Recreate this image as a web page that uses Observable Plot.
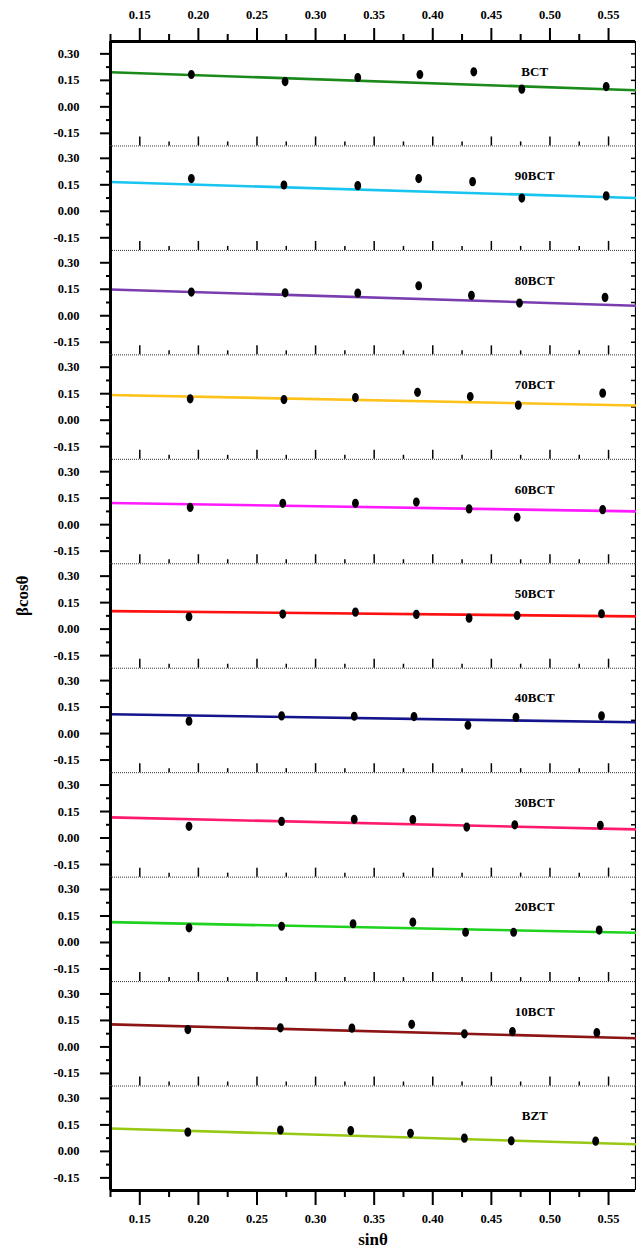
<!DOCTYPE html>
<html>
<head>
<meta charset="utf-8">
<script src="https://cdn.jsdelivr.net/npm/d3@7"></script>
<script src="https://cdn.jsdelivr.net/npm/@observablehq/plot@0.6"></script>
<style>
  html, body { margin: 0; padding: 0; background: #fff; }
  #chart { width: 636px; height: 1256px; }
</style>
</head>
<body>
<div id="chart"></div>
<script>
// ---- data ----
const series = ["BCT","90BCT","80BCT","70BCT","60BCT","50BCT","40BCT","30BCT","20BCT","10BCT","BZT"];

const sinTheta = [
  [0.194,0.274,0.336,0.389,0.435,0.476,0.548],
  [0.194,0.273,0.336,0.388,0.434,0.476,0.548],
  [0.194,0.274,0.336,0.388,0.433,0.474,0.547],
  [0.193,0.273,0.334,0.387,0.432,0.473,0.545],
  [0.193,0.272,0.334,0.386,0.431,0.472,0.545],
  [0.192,0.272,0.334,0.386,0.431,0.472,0.544],
  [0.192,0.271,0.333,0.384,0.430,0.471,0.544],
  [0.192,0.271,0.333,0.383,0.429,0.470,0.543],
  [0.192,0.271,0.332,0.383,0.428,0.469,0.542],
  [0.191,0.270,0.331,0.382,0.427,0.468,0.540],
  [0.191,0.270,0.330,0.381,0.427,0.467,0.539]
];

const betaCos = [
  [0.183,0.143,0.166,0.183,0.198,0.100,0.115],
  [0.185,0.149,0.145,0.185,0.168,0.075,0.087],
  [0.134,0.130,0.128,0.170,0.115,0.072,0.104],
  [0.121,0.117,0.128,0.158,0.134,0.085,0.153],
  [0.098,0.121,0.121,0.128,0.089,0.042,0.085],
  [0.070,0.085,0.096,0.083,0.062,0.077,0.087],
  [0.070,0.100,0.098,0.096,0.047,0.092,0.100],
  [0.066,0.094,0.106,0.104,0.062,0.075,0.072],
  [0.083,0.092,0.106,0.115,0.058,0.058,0.070],
  [0.098,0.108,0.106,0.128,0.074,0.087,0.081],
  [0.109,0.121,0.117,0.102,0.075,0.060,0.058]
];

// fitted line values read at the left and right ends of the x axis
const fitAtLeft  = [0.196,0.166,0.149,0.143,0.123,0.102,0.109,0.117,0.115,0.128,0.130];
const fitAtRight = [0.094,0.075,0.057,0.083,0.075,0.072,0.064,0.049,0.055,0.049,0.040];

const xDomain = [0.125, 0.573];
const yDomain = [-0.2215, 0.37];

const xMajorTicks = [0.15,0.20,0.25,0.30,0.35,0.40,0.45,0.50,0.55];
const xMinorTicks = [0.125,0.175,0.225,0.275,0.325,0.375,0.425,0.475,0.525];
const yMajorTicks = [-0.15,0.00,0.15,0.30];
const yMinorTicks = [-0.075,0.075,0.225];

const lineColors = ["#1a8a1a","#18c4f0","#7a3db0","#ffc21a","#ff1aff","#ff1010","#14148c","#ff1a6e","#1ed21e","#8c1414","#96c814"];

// ---- derived tables ----
const points = series.flatMap((s, i) => sinTheta[i].map((x, j) => ({series: s, x, y: betaCos[i][j]})));
const fitLines = series.flatMap((s, i) => [
  {series: s, x: xDomain[0], y: fitAtLeft[i]},
  {series: s, x: xDomain[1], y: fitAtRight[i]}
]);
const inner = series.slice(0, -1);
const sepMajor = inner.flatMap(s => xMajorTicks.map(x => ({series: s, x})));
const sepMinor = inner.flatMap(s => xMinorTicks.map(x => ({series: s, x})));

const W = 636, H = 1256, mT = 41, mB = 66, mL = 110, mR = 1;
const panelPx = (H - mT - mB) / series.length;
const yPerPx = (yDomain[1] - yDomain[0]) / panelPx;
const xPerPx = (xDomain[1] - xDomain[0]) / (W - mL - mR);

const fmt = d => d.toFixed(2);
const font = "'Liberation Serif','Times New Roman',serif";

const ellipse = {
  draw(context, size) {
    const r = Math.sqrt(size / Math.PI);
    const rx = r * 0.74, ry = r, k = 0.5523;
    context.moveTo(rx, 0);
    context.bezierCurveTo(rx, ry * k, rx * k, ry, 0, ry);
    context.bezierCurveTo(-rx * k, ry, -rx, ry * k, -rx, 0);
    context.bezierCurveTo(-rx, -ry * k, -rx * k, -ry, 0, -ry);
    context.bezierCurveTo(rx * k, -ry, rx, -ry * k, rx, 0);
    context.closePath();
  }
};

const chart = Plot.plot({
  width: W, height: H,
  marginTop: mT, marginBottom: mB, marginLeft: mL, marginRight: mR,
  style: {fontFamily: font, fontWeight: "bold", background: "#fff", color: "#000"},
  x: {domain: xDomain},
  y: {domain: yDomain},
  fy: {domain: series, padding: 0, round: false, axis: null, label: null},
  color: {domain: series, range: lineColors},
  marks: [
    // dotted separators between panels
    Plot.ruleY([yDomain[0]], {stroke: "#333", strokeDasharray: "1,1", strokeWidth: 1}),
    // inward x ticks on the separators
    Plot.ruleX(sepMajor, {x: "x", fy: "series", y1: yDomain[0], y2: yDomain[0] + 9 * yPerPx, stroke: "#000", strokeWidth: 1.5}),
    Plot.ruleX(sepMinor, {x: "x", fy: "series", y1: yDomain[0], y2: yDomain[0] + 4 * yPerPx, stroke: "#000", strokeWidth: 1.5}),
    // right frame with inward ticks
    Plot.ruleX([xDomain[1]], {stroke: "#000", strokeWidth: 1.2}),
    Plot.ruleY([...yMajorTicks, ...yMinorTicks], {x1: xDomain[1] - 4 * xPerPx, x2: xDomain[1], stroke: "#000", strokeWidth: 1.5}),
    // fit lines
    Plot.line(fitLines, {x: "x", y: "y", fy: "series", stroke: "series", strokeWidth: 2.6}),
    // data points
    Plot.dot(points, {x: "x", y: "y", fy: "series", r: 4.6, fill: "#000", symbol: ellipse}),
    // panel labels
    Plot.text(series, {x: 0.487, y: 0.2, fy: d => d, text: d => d, fontSize: 13, fontWeight: "bold", fill: "#000"}),
    // left axis
    Plot.axisY(yMajorTicks, {anchor: "left", tickSize: 10, tickPadding: 21, tickFormat: fmt, label: null, fontSize: 12.5, strokeWidth: 2}),
    Plot.axisY(yMinorTicks, {anchor: "left", tickSize: 4, tickFormat: () => "", label: null, strokeWidth: 2}),
    Plot.ruleX([xDomain[0]], {stroke: "#000", strokeWidth: 3}),
    // top axis
    Plot.axisX(xMajorTicks, {anchor: "top", tickSize: 14, tickPadding: 9, tickFormat: fmt, label: null, fontSize: 12.5, strokeWidth: 2}),
    Plot.axisX(xMinorTicks, {anchor: "top", tickSize: 8, tickFormat: () => "", label: null, strokeWidth: 2}),
    Plot.ruleY([yDomain[1]], {fy: () => series[0], stroke: "#000", strokeWidth: 3}),
    // bottom axis
    Plot.axisX(xMajorTicks, {anchor: "bottom", tickSize: 15, tickPadding: 9, tickFormat: fmt, label: null, fontSize: 12.5, strokeWidth: 2}),
    Plot.axisX(xMinorTicks, {anchor: "bottom", tickSize: 7, tickFormat: () => "", label: null, strokeWidth: 2}),
    Plot.ruleY([yDomain[0]], {fy: () => series[series.length - 1], stroke: "#000", strokeWidth: 3}),
    // axis titles
    Plot.text(["sinθ"], {fy: () => series[series.length - 1], frameAnchor: "bottom", dy: 54, text: d => d, fontSize: 17, fontWeight: "bold", fill: "#000"}),
    Plot.text(["βcosθ"], {fy: () => series[5], frameAnchor: "left", dx: -88, rotate: -90, text: d => d, fontSize: 17, fontWeight: "bold", fill: "#000"})
  ]
});
document.getElementById("chart").appendChild(chart);
</script>
</body>
</html>
